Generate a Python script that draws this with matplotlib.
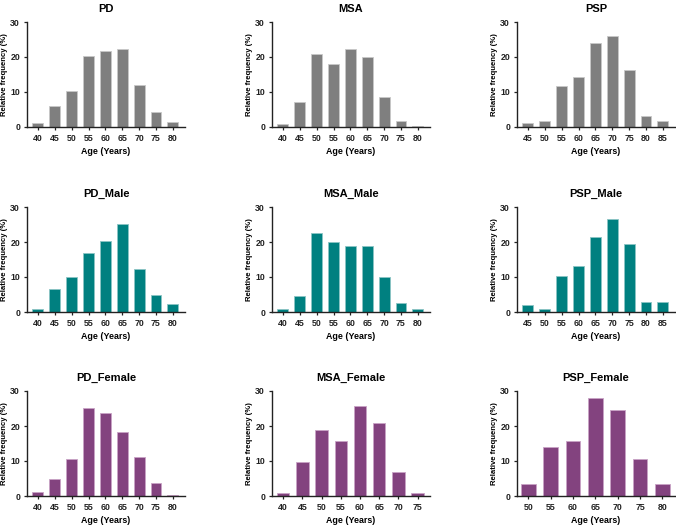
import matplotlib
matplotlib.use("Agg")
import matplotlib.pyplot as plt

plt.rcParams['font.family'] = ['Liberation Sans', 'DejaVu Sans']

ages_40_80 = ["40", "45", "50", "55", "60", "65", "70", "75", "80"]
ages_45_85 = ["45", "50", "55", "60", "65", "70", "75", "80", "85"]
ages_40_75 = ["40", "45", "50", "55", "60", "65", "70", "75"]
ages_50_80 = ["50", "55", "60", "65", "70", "75", "80"]

pd_all = [1.0, 5.9, 10.4, 20.3, 21.7, 22.3, 11.9, 4.3, 1.3]
msa_all = [0.9, 7.0, 20.9, 18.0, 22.3, 19.9, 8.5, 1.8, 0.4]
psp_all = [1.1, 1.8, 11.6, 14.2, 23.9, 25.9, 16.2, 3.1, 1.8]

pd_male = [1.0, 6.7, 10.1, 16.8, 20.2, 25.2, 12.4, 5.0, 2.3]
msa_male = [0.9, 4.5, 22.7, 20.0, 19.0, 19.0, 10.0, 2.7, 0.9]
psp_male = [1.9, 1.0, 10.2, 13.2, 21.4, 26.6, 19.3, 3.0, 3.0]

pd_female = [1.2, 5.0, 10.7, 25.1, 23.8, 18.2, 11.1, 3.6, 0.4]
msa_female = [1.0, 9.8, 18.8, 15.8, 25.7, 20.8, 6.8, 1.0]
psp_female = [3.4, 14.0, 15.7, 28.0, 24.6, 10.5, 3.4]

titles = [["PD", "MSA", "PSP"],
          ["PD_Male", "MSA_Male", "PSP_Male"],
          ["PD_Female", "MSA_Female", "PSP_Female"]]
cats = [[ages_40_80, ages_40_80, ages_45_85],
        [ages_40_80, ages_40_80, ages_45_85],
        [ages_40_80, ages_40_75, ages_50_80]]
vals = [[pd_all, msa_all, psp_all],
        [pd_male, msa_male, psp_male],
        [pd_female, msa_female, psp_female]]
colors = ["#7f7f7f", "#008080", "#83437f"]
edges = ["#c8c8c8", "#8cc4c4", "#c9a3c6"]

fig = plt.figure(figsize=(6.76, 5.25), dpi=100)
lefts = [27 / 676, 272 / 676, 517 / 676]
bottoms = [1 - 127 / 525, 1 - 312 / 525, 1 - 496 / 525]
w = 158 / 676
h = 105 / 525

for r in range(3):
    for c in range(3):
        ax = fig.add_axes([lefts[c], bottoms[r], w, h])
        cl = cats[r][c]
        v = vals[r][c]
        x = list(range(len(cl)))
        ax.bar(x, v, width=0.65, color=colors[r], edgecolor=edges[r], linewidth=0.6)
        n = len(cl)
        left_m = 0.65 * (n + 0.37) / 9.37
        right_m = 0.72 * (n + 0.37) / 9.37
        ax.set_xlim(-left_m, n - 1 + right_m)
        ax.set_ylim(0, 30)
        ax.set_yticks([0, 10, 20, 30])
        ax.set_xticks(x)
        ax.set_xticklabels(cl)
        for s in ["top", "right"]:
            ax.spines[s].set_visible(False)
        for s in ["left", "bottom"]:
            ax.spines[s].set_linewidth(1.0)
            ax.spines[s].set_color("#222222")
        ax.tick_params(axis="both", labelsize=6.3, length=2.5, width=0.9, pad=2.5,
                       colors="#222222")
        for lab in ax.get_xticklabels() + ax.get_yticklabels():
            lab.set_fontweight("bold")
        ax.set_ylabel("Relative frequency (%)", fontsize=5.6, fontweight="bold", labelpad=2)
        ax.set_xlabel("Age (Years)", fontsize=6.4, fontweight="bold", labelpad=3)
        ax.set_title(titles[r][c], fontsize=8, fontweight="bold", pad=7)

fig.savefig("out.png", dpi=100, facecolor="white")
